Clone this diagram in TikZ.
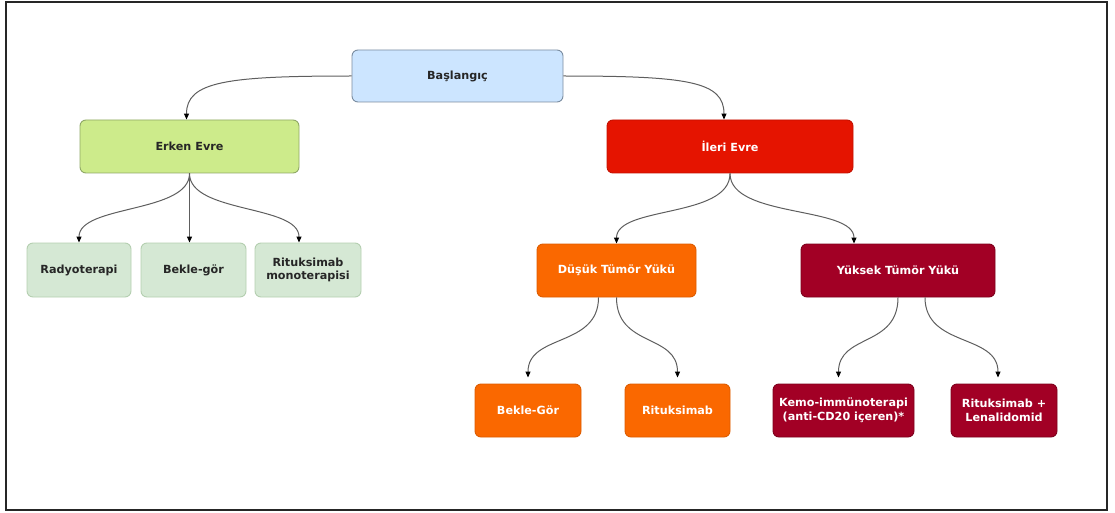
\documentclass[tikz,border=0pt]{standalone}
\usepackage{fontspec}
\setmainfont{DejaVu Sans}
\usetikzlibrary{arrows.meta}
\definecolor{blueF}{HTML}{CCE5FF}
\definecolor{blueD}{HTML}{7A8CA0}
\definecolor{limeF}{HTML}{CDEB8B}
\definecolor{limeD}{HTML}{8FA866}
\definecolor{paleF}{HTML}{D5E8D4}
\definecolor{paleD}{HTML}{B4CFB0}
\definecolor{redF}{HTML}{E51400}
\definecolor{redD}{HTML}{C41100}
\definecolor{orF}{HTML}{FA6800}
\definecolor{orD}{HTML}{DD5C00}
\definecolor{crF}{HTML}{A20025}
\definecolor{crD}{HTML}{7E001C}
\definecolor{lineC}{HTML}{5E5E5E}
\tikzset{
  box/.style={rectangle, rounded corners=6pt, line width=0.9pt, inner sep=0pt, align=center,
    font=\fontsize{11.2}{13.5}\selectfont\bfseries},
  bluebox/.style={box, fill=blueF, draw=blueD, text=black!85},
  limebox/.style={box, fill=limeF, draw=limeD, text=black!85},
  palebox/.style={box, fill=paleF, draw=paleD, text=black!85},
  redbox/.style={box, fill=redF, draw=redD, text=white},
  orbox/.style={box, fill=orF, draw=orD, text=white},
  crbox/.style={box, fill=crF, draw=crD, text=white},
  conn/.style={draw=lineC, line width=1pt, -{Triangle[length=6pt,width=5pt,fill=black,color=black]}},
}
\begin{document}
\begin{tikzpicture}[x=1pt,y=-1pt]
\useasboundingbox (0,0) rectangle (1115,513);
\draw[line width=2pt, black!85] (6,2) rectangle (1107,510);

\node[bluebox, minimum width=211pt, minimum height=52pt] (start) at (457.5,76) {Başlangıç};
\node[limebox, minimum width=219pt, minimum height=53pt] (erken) at (189.5,146.5) {Erken Evre};
\node[redbox, minimum width=246pt, minimum height=53pt] (ileri) at (730,146.5) {İleri Evre};

\node[palebox, minimum width=104pt, minimum height=54pt] (rady) at (79,270) {Radyoterapi};
\node[palebox, minimum width=105pt, minimum height=54pt] (bekle) at (193.5,270) {Bekle-gör};
\node[palebox, minimum width=106pt, minimum height=54pt] (ritmono) at (308,270) {Rituksimab\\monoterapisi};

\node[orbox, minimum width=159pt, minimum height=53pt] (dusuk) at (616.5,270.5) {Düşük Tümör Yükü};
\node[crbox, minimum width=194pt, minimum height=53pt] (yuksek) at (898,270.5) {Yüksek Tümör Yükü};

\node[orbox, minimum width=106pt, minimum height=53pt] (bg) at (528,410.5) {Bekle-Gör};
\node[orbox, minimum width=105pt, minimum height=53pt] (rit) at (677.5,410.5) {Rituksimab};
\node[crbox, minimum width=141pt, minimum height=53pt] (kemo) at (843.5,410.5) {Kemo-immünoterapi\\(anti-CD20 içeren)*};
\node[crbox, minimum width=106pt, minimum height=53pt] (rl) at (1004,410.5) {Rituksimab +\\Lenalidomid};

% top level
\draw[conn] (start.west) .. controls +(-125,0) and +(0,-38) .. ([xshift=-3pt]erken.north);
\draw[conn] (start.east) .. controls +(125,0) and +(0,-38) .. ([xshift=-6pt]ileri.north);

% early stage
\draw[conn] (erken.south) .. controls +(0,40) and +(0,-38) .. (rady.north);
\draw[conn] (erken.south) -- (erken.south |- bekle.north);
\draw[conn] (erken.south) .. controls +(0,40) and +(0,-38) .. ([xshift=-9pt]ritmono.north);

% advanced stage
\draw[conn] (ileri.south) .. controls +(0,45) and +(0,-38) .. (dusuk.north);
\draw[conn] (ileri.south) .. controls +(0,45) and +(0,-38) .. ([xshift=-44pt]yuksek.north);

% low burden
\draw[conn, shorten >=6pt] ([xshift=-18pt]dusuk.south) .. controls +(0,50) and +(0,-50) .. (bg.north);
\draw[conn, shorten >=6pt] (dusuk.south) .. controls +(0,50) and +(0,-50) .. (rit.north);

% high burden
\draw[conn, shorten >=6pt] (yuksek.south) .. controls +(0,50) and +(0,-50) .. ([xshift=-5pt]kemo.north);
\draw[conn, shorten >=6pt] ([xshift=27pt]yuksek.south) .. controls +(0,50) and +(0,-50) .. ([xshift=-6pt]rl.north);
\end{tikzpicture}
\end{document}
